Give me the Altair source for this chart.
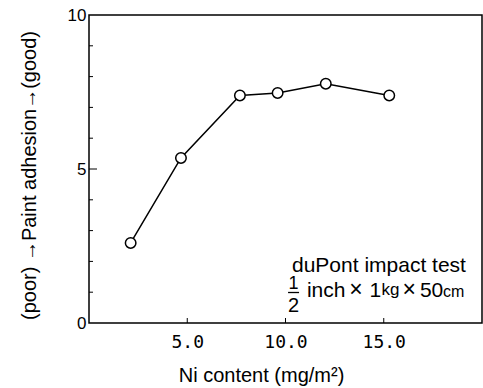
import altair as alt
import pandas as pd

# ---- data ----
ni_content = [2.12, 4.68, 7.68, 9.60, 12.05, 15.28]
adhesion = [2.60, 5.36, 7.39, 7.47, 7.77, 7.39]

x_tick_values = [5, 10, 15]
y_label_values = [0, 5, 10]
y_minor_ticks = [1, 2, 3, 4, 6, 7, 8, 9]
y_major_ticks = [5]

x_title = "Ni content (mg/m²)"
y_title = "(poor) \u2192Paint adhesion\u2192(good)"

# annotation pieces (text, x, y in data units, font size)
note_left_text = ["duPont impact test", "inch", "1", "kg", "50", "cm"]
note_left_x = [10.33, 11.09, 14.27, 14.89, 16.84, 18.02]
note_left_y = [1.64, 0.828, 0.828, 0.925, 0.828, 0.86]
note_left_size = [21, 21, 21, 17, 21, 16]

note_center_text = ["1", "2", "\u00d7", "\u00d7"]
note_center_x = [10.41, 10.41, 13.59, 16.30]
note_center_y = [1.088, 0.373, 0.828, 0.828]
note_center_size = [18, 20, 23, 23]

frac_bar_x = [10.13]
frac_bar_x2 = [10.69]
frac_bar_y = [0.99]

FONT = "Liberation Sans"

xs = alt.Scale(domain=[0, 20], nice=False, zero=False)
ys = alt.Scale(domain=[0, 10], nice=False, zero=False)

x_axis = alt.Axis(
    values=x_tick_values,
    format=".1f",
    title=x_title,
    ticks=False,
    domain=False,
    grid=False,
    labelFont="DejaVu Sans Mono",
    labelFontSize=18,
    labelColor="black",
    labelPadding=10,
    titleFont=FONT,
    titleFontSize=20,
    titleFontWeight="normal",
    titleColor="black",
    titleX=172,
    titleY=58.5,
    titleAlign="center",
    titleBaseline="alphabetic",
)
y_axis = alt.Axis(
    values=y_label_values,
    title=y_title,
    ticks=False,
    domain=False,
    grid=False,
    labelFont=FONT,
    labelFontSize=17,
    labelColor="black",
    labelPadding=3,
    titleFont=FONT,
    titleFontSize=20,
    titleFontWeight="normal",
    titleColor="black",
    titleAngle=270,
    titleX=-54,
    titleY=160,
    titleAlign="center",
    titleBaseline="alphabetic",
)


def X(field="x"):
    return alt.X(f"{field}:Q", scale=xs, axis=x_axis, title=x_title)


def Y(field="y"):
    return alt.Y(f"{field}:Q", scale=ys, axis=y_axis, title=y_title)


df = pd.DataFrame({"x": ni_content, "y": adhesion})

line = alt.Chart(df).mark_line(color="black", strokeWidth=1.5).encode(x=X(), y=Y())

points = alt.Chart(df).mark_point(
    shape="circle", filled=True, fill="white", stroke="black",
    strokeWidth=1.5, size=110, opacity=1, fillOpacity=1, strokeOpacity=1,
).encode(x=X(), y=Y())

ytick_minor = alt.Chart(pd.DataFrame({"y": y_minor_ticks})).mark_rule(
    color="black", strokeWidth=1
).encode(y=Y(), x=alt.value(0), x2=alt.value(4))

ytick_major = alt.Chart(pd.DataFrame({"y": y_major_ticks})).mark_rule(
    color="black", strokeWidth=1
).encode(y=Y(), x=alt.value(0), x2=alt.value(8))

xtick = alt.Chart(pd.DataFrame({"x": x_tick_values})).mark_rule(
    color="black", strokeWidth=1
).encode(x=X(), y=alt.value(308), y2=alt.value(303))

note_left = alt.Chart(pd.DataFrame({
    "t": note_left_text, "x": note_left_x, "y": note_left_y, "s": note_left_size,
})).mark_text(align="left", baseline="alphabetic", font=FONT, color="black").encode(
    x=X(), y=Y(), text="t:N",
    size=alt.Size("s:Q", scale=None, legend=None),
)

note_center = alt.Chart(pd.DataFrame({
    "t": note_center_text, "x": note_center_x, "y": note_center_y, "s": note_center_size,
})).mark_text(align="center", baseline="alphabetic", font=FONT, color="black").encode(
    x=X(), y=Y(), text="t:N",
    size=alt.Size("s:Q", scale=None, legend=None),
)

bar = alt.Chart(pd.DataFrame({"x": frac_bar_x, "x2": frac_bar_x2, "y": frac_bar_y})).mark_rule(
    color="black", strokeWidth=1.3
).encode(x=X(), x2="x2:Q", y=Y())

chart = alt.layer(
    line, points, ytick_minor, ytick_major, xtick, note_left, note_center, bar
).properties(
    width=393,
    height=308,
    padding={"left": 89, "top": 15, "right": 1, "bottom": 65},
    autosize=alt.AutoSizeParams(type="none"),
    background="white",
).configure_view(stroke="black", strokeWidth=1.5)

chart.save("out.html", embed_options={"renderer": "svg", "actions": False})
